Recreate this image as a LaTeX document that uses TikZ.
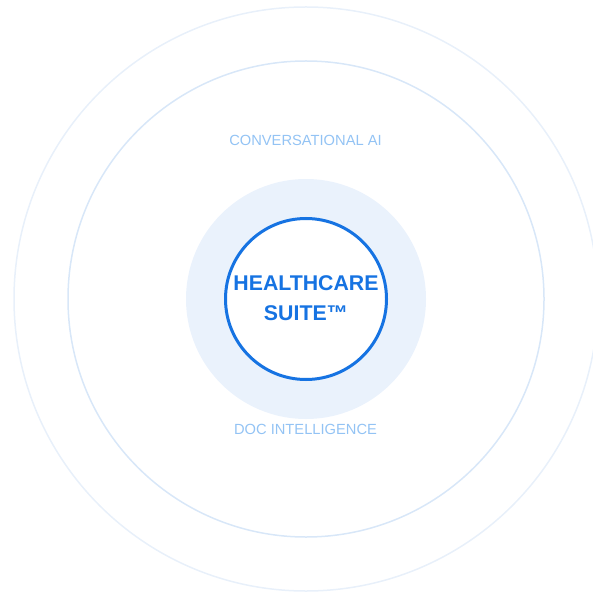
\documentclass[tikz,border=0pt]{standalone}
\usepackage{fontspec}
\setmainfont{Liberation Sans}
\definecolor{suiteblue}{HTML}{1673E2}
\definecolor{labelblue}{HTML}{93C3F4}
\definecolor{haloblue}{HTML}{EAF2FC}
\definecolor{outerring}{HTML}{E8F0FA}
\definecolor{midring}{HTML}{D8E7F8}
\begin{document}
\begin{tikzpicture}[x=1pt, y=-1pt]
% Set the canvas size
\useasboundingbox (0, 0) rectangle (592, 593);
\coordinate (c) at (306, 299);

% Draw the rings from outside in
\draw[outerring, line width=1.5pt] (c) circle (292);
\draw[midring, line width=1.5pt] (c) circle (238);
\fill[haloblue] (c) circle (120);
\draw[suiteblue, fill=white, line width=3pt] (c) circle (80.5);

% Insert the labels
\node[anchor=base, font=\fontsize{14.7}{17}\selectfont, text=labelblue] (convai) at (305.5, 146) {CONVERSATIONAL AI};
\node[anchor=base, font=\fontsize{14.7}{17}\selectfont, text=labelblue] (docint) at (305.5, 434) {DOC INTELLIGENCE};
\node[anchor=base, font=\fontsize{21.3}{31}\selectfont\bfseries, text=suiteblue] (suite1) at (306, 290) {HEALTHCARE};
\node[anchor=base, font=\fontsize{21.3}{31}\selectfont\bfseries, text=suiteblue] (suite2) at (306, 320.5) {SUITE™};
\end{tikzpicture}
\end{document}
